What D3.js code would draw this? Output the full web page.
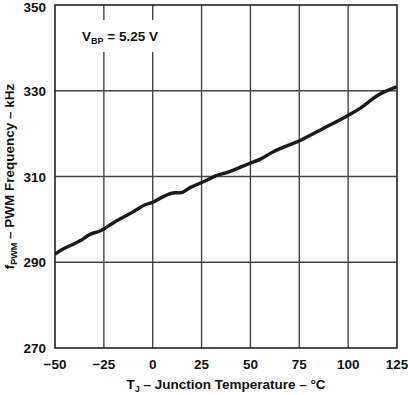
<!DOCTYPE html>
<html>
<head>
<meta charset="utf-8">
<script src="https://cdn.jsdelivr.net/npm/d3@7"></script>
<style>
  body { margin: 0; background: #fff; }
  text { font-family: "Liberation Sans", Arial, sans-serif; font-weight: bold; fill: #111; }
</style>
</head>
<body>
<script>
// temperature (°C)
const temps = [-50, -46.6, -37.2, -32.1, -27, -18.4, -9.9, -3.9, -0.5, 6.3, 11.4, 14, 19.1, 28.4, 31.9, 37.9, 49.8, 54.9, 61.7, 75.4, 87.3, 100.1, 106.1, 115.4, 124.8];
// PWM frequency (kHz)
const freqs = [291.9, 292.9, 295.0, 296.5, 297.3, 299.7, 301.8, 303.4, 303.9, 305.5, 306.2, 306.2, 307.4, 309.3, 310.1, 310.9, 313.1, 314.0, 315.8, 318.4, 321.2, 324.3, 325.9, 329.0, 330.9];
const xTicks = [-50, -25, 0, 25, 50, 75, 100, 125];
const yTicks = [270, 290, 310, 330, 350];

const width = 408, height = 395;
const margin = {left: 55, right: 11, top: 5, bottom: 47};

const svg = d3.select("body").append("svg")
    .attr("width", width)
    .attr("height", height);

const x = d3.scaleLinear().domain([-50, 125]).range([margin.left, width - margin.right]);
const y = d3.scaleLinear().domain([270, 350]).range([height - margin.bottom, margin.top]);

// grid
svg.append("g")
    .selectAll("line")
    .data(xTicks.slice(1, -1))
    .join("line")
    .attr("x1", d => x(d)).attr("x2", d => x(d))
    .attr("y1", y(350)).attr("y2", y(270))
    .attr("stroke", "#444").attr("stroke-width", 1.4);

svg.append("g")
    .selectAll("line")
    .data(yTicks.slice(1, -1))
    .join("line")
    .attr("x1", x(-50)).attr("x2", x(125))
    .attr("y1", d => y(d)).attr("y2", d => y(d))
    .attr("stroke", "#444").attr("stroke-width", 1.4);

// frame
svg.append("rect")
    .attr("x", x(-50)).attr("y", y(350))
    .attr("width", x(125) - x(-50)).attr("height", y(270) - y(350))
    .attr("fill", "none").attr("stroke", "#222").attr("stroke-width", 1.6);

// annotation box
svg.append("rect")
    .attr("x", 76).attr("y", 20).attr("width", 82).attr("height", 32)
    .attr("fill", "#fff");

const ann = svg.append("text").attr("x", 82).attr("y", 41).attr("font-size", 13.5);
ann.append("tspan").text("V");
ann.append("tspan").attr("font-size", 9).attr("dy", 3).text("BP");
ann.append("tspan").attr("dy", -3).text(" = 5.25 V");

// curve
svg.append("path")
    .datum(temps.map((t, i) => [t, freqs[i]]))
    .attr("fill", "none")
    .attr("stroke", "#1a1a1a")
    .attr("stroke-width", 3.4)
    .attr("stroke-linejoin", "round")
    .attr("d", d3.line().x(d => x(d[0])).y(d => y(d[1])).curve(d3.curveMonotoneX));

// tick labels
svg.append("g")
    .selectAll("text")
    .data(xTicks)
    .join("text")
    .attr("x", d => x(d))
    .attr("y", 369)
    .attr("text-anchor", "middle")
    .attr("font-size", 13.5)
    .text(d => d < 0 ? "\u2212" + Math.abs(d) : d);

svg.append("g")
    .selectAll("text")
    .data(yTicks)
    .join("text")
    .attr("x", 46)
    .attr("y", d => Math.max(y(d) + 5, 12))
    .attr("text-anchor", "end")
    .attr("font-size", 13.5)
    .text(d => d);

// axis titles
const xt = svg.append("text")
    .attr("x", x(37.5)).attr("y", 389)
    .attr("text-anchor", "middle")
    .attr("font-size", 13.5);
xt.append("tspan").text("T");
xt.append("tspan").attr("font-size", 9).attr("dy", 3).text("J");
xt.append("tspan").attr("dy", -3).text(" \u2013 Junction Temperature \u2013 \u00b0C");

const yt = svg.append("text")
    .attr("transform", `translate(14, ${y(310)}) rotate(-90)`)
    .attr("text-anchor", "middle")
    .attr("font-size", 13.5);
yt.append("tspan").text("f");
yt.append("tspan").attr("font-size", 9).attr("dy", 3).text("PWM");
yt.append("tspan").attr("dy", -3).text(" \u2013 PWM Frequency \u2013 kHz");
</script>
</body>
</html>
